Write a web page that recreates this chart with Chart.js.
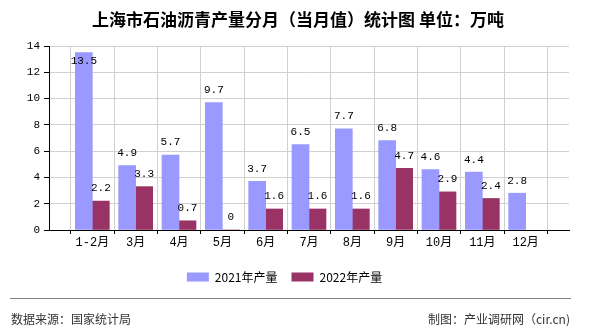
<!DOCTYPE html>
<html>
<head>
<meta charset="utf-8">
<script src="https://cdn.jsdelivr.net/npm/chart.js@4/dist/chart.umd.min.js"></script>
<style>
  body { margin: 0; background: #fff; }
  #wrap { position: relative; width: 590px; height: 330px; }
  #title { position: absolute; left: 0; top: 9px; width: 596px; text-align: center; font: bold 17px "Noto Sans CJK SC", sans-serif; color: #000; line-height: 20px; }
  #line { position: absolute; left: 10px; top: 298px; width: 561px; height: 1px; background: #808080; }
  .foot { position: absolute; top: 311px; font: 12px "Noto Sans CJK SC", sans-serif; color: #333; line-height: 16px; }
</style>
</head>
<body>
<div id="wrap">
  <canvas id="chart" width="590" height="330"></canvas>
  <div id="title">上海市石油沥青产量分月（当月值）统计图 单位：万吨</div>
  <div id="line"></div>
  <div class="foot" style="left:11px">数据来源：国家统计局</div>
  <div class="foot" style="right:20px">制图：产业调研网（cir.cn)</div>
</div>
<script>
// 空的首尾类目用来留出两边的空位
const months = ['', '1-2月', '3月', '4月', '5月', '6月', '7月', '8月', '9月', '10月', '11月', '12月', ''];
const output2021 = [null, 13.5, 4.9, 5.7, 9.7, 3.7, 6.5, 7.7, 6.8, 4.6, 4.4, 2.8, null];
const output2022 = [null, 2.2, 3.3, 0.7, 0, 1.6, 1.6, 1.6, 4.7, 2.9, 2.4, null, null];
const yTicks = [0, 2, 4, 6, 8, 10, 12, 14];

const monoFont = '"Liberation Mono", "Noto Sans CJK SC", monospace';

// 柱子上方的数值
const valueLabels = {
  id: 'valueLabels',
  afterDatasetsDraw(chart) {
    const ctx = chart.ctx;
    const area = chart.chartArea;
    ctx.save();
    ctx.font = '11px ' + monoFont;
    ctx.fillStyle = '#000';
    ctx.textAlign = 'center';
    ctx.textBaseline = 'middle';
    chart.data.datasets.forEach((ds, di) => {
      const meta = chart.getDatasetMeta(di);
      meta.data.forEach((bar, i) => {
        const v = ds.data[i];
        if (v === null || v === undefined) return;
        let y = bar.y - 12.5;
        if (y - 6 < area.top) y = bar.y + 9;
        ctx.fillText(String(v), bar.x, y);
      });
    });
    ctx.restore();
  }
};

const ctx = document.getElementById('chart').getContext('2d');
const chart = new Chart(ctx, {
  type: 'bar',
  data: {
    labels: months,
    datasets: [{
      label: '2021年产量',
      data: output2021,
      backgroundColor: '#9999ff',
      barThickness: 17
    }, {
      label: '2022年产量',
      data: output2022,
      backgroundColor: '#993366',
      barThickness: 17
    }]
  },
  options: {
    responsive: false,
    animation: false,
    layout: { padding: { left: 0, right: 21, top: 46, bottom: 37 } },
    plugins: {
      title: { display: false },
      legend: {
        position: 'bottom',
        labels: {
          boxWidth: 22,
          boxHeight: 9,
          padding: 14,
          color: '#000',
          font: { family: '"Noto Sans CJK SC", sans-serif', size: 12 }
        }
      },
      tooltip: { enabled: false }
    },
    scales: {
      x: {
        offset: false,
        grid: { color: '#d0d0d0', tickColor: '#000', tickLength: 4 },
        border: { color: '#000' },
        ticks: { color: '#000', font: { family: monoFont, size: 12 }, maxRotation: 0, autoSkip: false, padding: 2 },
        afterFit(scale) { scale.height = 27; }
      },
      y: {
        min: 0,
        max: 14,
        grid: { color: '#d0d0d0', tickColor: '#000', tickLength: 5 },
        border: { color: '#000' },
        afterBuildTicks(scale) { scale.ticks = yTicks.map(v => ({ value: v })); },
        ticks: { color: '#000', font: { family: monoFont, size: 11 }, padding: 4 },
        afterFit(scale) { scale.width = 49; }
      }
    }
  },
  plugins: [valueLabels]
});
</script>
</body>
</html>
